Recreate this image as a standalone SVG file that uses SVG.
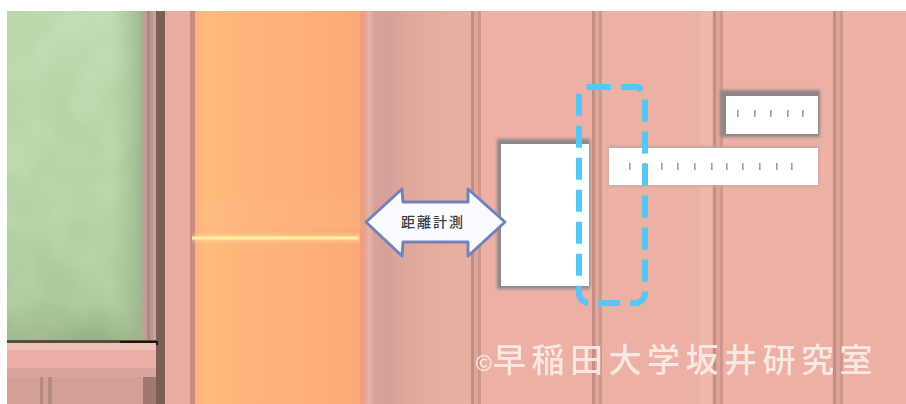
<svg xmlns="http://www.w3.org/2000/svg" width="906" height="404" viewBox="0 0 906 404">
  <style>
    .groove-dark { fill: #c58c81; }
    .groove-mid { fill: #dea69a; }
    .groove-edge { fill: #cf978b; }
    .panel { fill: #ffffff; }
    .tick { fill: #a39c9a; }
    .scan { fill: none; stroke: #55c6f6; stroke-width: 6; stroke-dasharray: 22 10; }
    .arrow { fill: #fbfcff; stroke: #7282bb; stroke-width: 3; stroke-linejoin: round; }
    .arrow-label { font-family: "Noto Sans CJK JP", "Noto Sans CJK SC", sans-serif; font-size: 14px; fill: #3a3a3a; font-weight: 500; }
    .mark { font-family: "Noto Sans CJK JP", "Noto Sans CJK SC", sans-serif; font-weight: 500; fill: #fbece8; opacity: 0.92; }
  </style>
  <defs>
    <linearGradient id="greenGrad" x1="0" y1="0" x2="0" y2="1">
      <stop offset="0" stop-color="#bad9ad"/>
      <stop offset="0.55" stop-color="#b2d3a2"/>
      <stop offset="0.88" stop-color="#a8c897"/>
      <stop offset="1" stop-color="#97b286"/>
    </linearGradient>
    <linearGradient id="greenSide" x1="0" y1="0" x2="1" y2="0">
      <stop offset="0" stop-color="#a9c99a" stop-opacity="0"/>
      <stop offset="1" stop-color="#9cb48c" stop-opacity="0.8"/>
    </linearGradient>
    <filter id="mottle" x="0" y="0" width="100%" height="100%">
      <feTurbulence type="fractalNoise" baseFrequency="0.025" numOctaves="2" seed="4"/>
      <feColorMatrix type="matrix" values="0 0 0 0 0.85  0 0 0 0 0.95  0 0 0 0 0.8  0 0 0 0.35 -0.1"/>
    </filter>
    <linearGradient id="orangeGrad" x1="0" y1="0" x2="1" y2="0">
      <stop offset="0" stop-color="#fdb47c"/>
      <stop offset="0.06" stop-color="#ffbb7e"/>
      <stop offset="0.3" stop-color="#feb47a"/>
      <stop offset="0.7" stop-color="#fdaf77"/>
      <stop offset="1" stop-color="#fbaa76"/>
    </linearGradient>
    <linearGradient id="edgeGrad" x1="360" y1="0" x2="471" y2="0" gradientUnits="userSpaceOnUse">
      <stop offset="0" stop-color="#f2a07e"/>
      <stop offset="0.04" stop-color="#e9a08a"/>
      <stop offset="0.08" stop-color="#e6b4aa"/>
      <stop offset="0.13" stop-color="#d8a29b"/>
      <stop offset="0.26" stop-color="#d6a09a"/>
      <stop offset="0.4" stop-color="#dea79b"/>
      <stop offset="0.6" stop-color="#e5ac9e"/>
      <stop offset="1" stop-color="#e8b0a3"/>
    </linearGradient>
    <linearGradient id="glow" x1="0" y1="0" x2="0" y2="1">
      <stop offset="0" stop-color="#fff2a8" stop-opacity="0"/>
      <stop offset="0.5" stop-color="#fff2a8" stop-opacity="1"/>
      <stop offset="1" stop-color="#fff2a8" stop-opacity="0"/>
    </linearGradient>
    <filter id="soft" x="-20%" y="-20%" width="140%" height="140%">
      <feGaussianBlur stdDeviation="1.5"/>
    </filter>
  </defs>

  <rect x="0" y="0" width="906" height="404" fill="#ffffff"/>

  <!-- wall surface -->
  <g id="wall">
    <rect x="360" y="11" width="546" height="393" fill="#ecb0a4"/>
    <rect x="360" y="11" width="111" height="393" fill="url(#edgeGrad)"/>
    <rect x="700" y="11" width="12" height="393" fill="#efb8ac"/>
    <g id="grooves">
      <rect class="groove-dark" x="471" y="11" width="3" height="393"/>
      <rect class="groove-mid" x="474" y="11" width="4" height="393"/>
      <rect class="groove-edge" x="478" y="11" width="3" height="393"/>

      <rect class="groove-dark" x="592" y="11" width="3" height="393"/>
      <rect class="groove-mid" x="595" y="11" width="4" height="393"/>
      <rect class="groove-edge" x="599" y="11" width="3" height="393"/>

      <rect class="groove-dark" x="713" y="11" width="3" height="393"/>
      <rect class="groove-mid" x="716" y="11" width="4" height="393"/>
      <rect class="groove-edge" x="720" y="11" width="3" height="393"/>

      <rect class="groove-dark" x="833" y="11" width="3" height="393"/>
      <rect class="groove-mid" x="836" y="11" width="4" height="393"/>
      <rect class="groove-edge" x="840" y="11" width="3" height="393"/>
    </g>
  </g>

  <!-- window with frame and sill -->
  <g id="window">
    <rect x="7" y="11" width="133" height="330" fill="url(#greenGrad)"/>
    <rect x="7" y="11" width="133" height="330" filter="url(#mottle)"/>
    <rect x="110" y="11" width="30" height="330" fill="url(#greenSide)"/>
    <rect x="140" y="11" width="3" height="393" fill="#aab092"/>
    <rect x="143" y="11" width="4" height="393" fill="#c29c95"/>
    <rect x="147" y="11" width="3" height="393" fill="#a88880"/>
    <rect x="150" y="11" width="3" height="393" fill="#bb948c"/>
    <rect x="153" y="11" width="3" height="393" fill="#c9a29a"/>
    <rect x="156" y="11" width="9" height="393" fill="#7d5e56"/>
    <rect x="165" y="11" width="25" height="393" fill="#e9aea1"/>
    <rect x="190" y="11" width="5" height="393" fill="#c98b7a"/>
    <!-- sill -->
    <rect x="7" y="340" width="149" height="3" fill="#5a4c40"/>
    <rect x="120" y="341" width="38" height="4" fill="#1e1410"/>
    <rect x="7" y="343" width="149" height="7" fill="#ecc2b6"/>
    <rect x="7" y="350" width="149" height="18" fill="#eaaea6"/>
    <rect x="7" y="368" width="149" height="9" fill="#d9a59c"/>
    <rect x="7" y="377" width="149" height="27" fill="#d3a096"/>
    <rect x="40" y="377" width="3" height="27" fill="#b58a80"/>
    <rect x="48" y="377" width="4" height="27" fill="#b58a80"/>
    <rect x="143" y="377" width="13" height="27" fill="#a07870"/>
  </g>

  <!-- orange column with level line -->
  <g id="pillar">
    <rect x="195" y="11" width="3" height="393" fill="#f3b292"/>
    <rect x="198" y="11" width="162" height="393" fill="url(#orangeGrad)"/>
    <rect x="198" y="198" width="162" height="30" fill="#ffc48c" opacity="0.15"/>
    <rect x="192" y="232" width="168" height="12" fill="url(#glow)" opacity="0.45"/>
    <rect x="192" y="236.5" width="166" height="3" fill="#fff0a0"/>
  </g>

  <!-- sensor box -->
  <g id="sensor-box">
    <rect x="497" y="139" width="93" height="150" fill="#8d8787" filter="url(#soft)"/>
    <rect x="501" y="144" width="88" height="142" class="panel"/>
  </g>

  <!-- small label panel -->
  <g id="label-short">
    <rect x="720" y="90" width="100" height="47" fill="#8f8585" filter="url(#soft)"/>
    <rect x="726" y="96" width="92" height="38" class="panel"/>
    <rect class="tick" x="737" y="110" width="1.6" height="7"/>
    <rect class="tick" x="754" y="110" width="1.6" height="7"/>
    <rect class="tick" x="770" y="110" width="1.6" height="7"/>
    <rect class="tick" x="787" y="110" width="1.6" height="7"/>
    <rect class="tick" x="802" y="110" width="1.6" height="7"/>
  </g>

  <!-- long label panel -->
  <g id="label-long">
    <rect x="608" y="146" width="211" height="40" fill="#c9a6a0" filter="url(#soft)"/>
    <rect x="609" y="148" width="209" height="37" class="panel"/>
    <rect class="tick" x="629" y="163" width="1.6" height="7"/>
    <rect class="tick" x="644" y="163" width="1.6" height="7"/>
    <rect class="tick" x="661" y="163" width="1.6" height="7"/>
    <rect class="tick" x="677" y="163" width="1.6" height="7"/>
    <rect class="tick" x="694" y="163" width="1.6" height="7"/>
    <rect class="tick" x="711" y="163" width="1.6" height="7"/>
    <rect class="tick" x="726" y="163" width="1.6" height="7"/>
    <rect class="tick" x="742" y="163" width="1.6" height="7"/>
    <rect class="tick" x="759" y="163" width="1.6" height="7"/>
    <rect class="tick" x="776" y="163" width="1.6" height="7"/>
    <rect class="tick" x="791" y="163" width="1.6" height="7"/>
  </g>

  <!-- scan zone outline -->
  <g id="scan-zone">
    <rect class="scan" x="579" y="87" width="66" height="216" rx="10" ry="10"/>
  </g>

  <!-- distance measurement arrow -->
  <g id="distance-arrow">
    <polygon class="arrow" points="366,222 402,189 403,202 468,202 468,189 505,222 468,256 468,242 403,242 402,256"/>
    <text class="arrow-label" x="433" y="227" text-anchor="middle" letter-spacing="2">距離計測</text>
  </g>

  <!-- credit -->
  <g id="credit">
    <text class="mark" x="475" y="371" font-size="21">©</text>
    <text class="mark" x="493" y="372" font-size="33" letter-spacing="5.5">早稲田大学坂井研究室</text>
  </g>
</svg>
